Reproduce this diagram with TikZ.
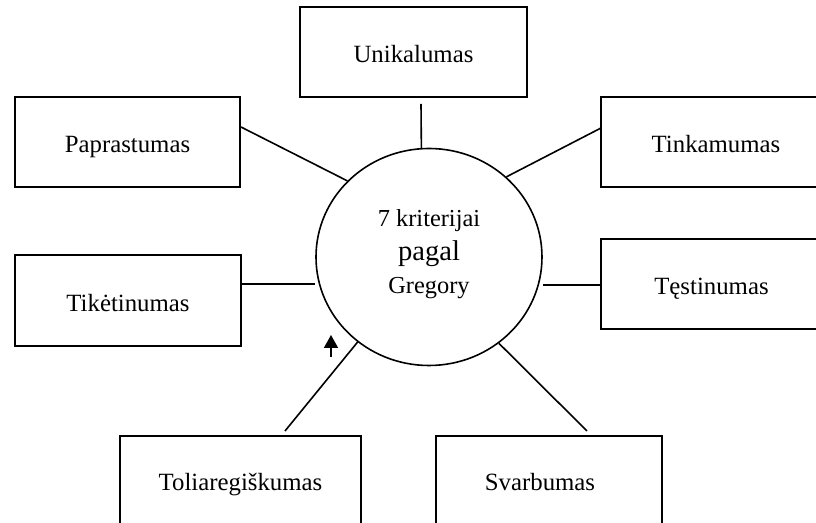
\documentclass[tikz,border=0pt]{standalone}
\usepackage{fontspec}
\setmainfont{Liberation Serif}
\usetikzlibrary{arrows.meta,shapes.geometric}
\begin{document}
\begin{tikzpicture}[x=0.5pt,y=-0.5pt,
  every node/.style={font=\fontsize{12.4}{14}\selectfont},
  box/.style={draw,line width=0.8pt,rectangle,inner sep=0pt,
    text height=11pt,text depth=0pt},
  link/.style={line width=0.8pt},
  hubstyle/.style={draw,ellipse,line width=0.8pt,inner sep=0pt,
    minimum width=113pt,minimum height=108.5pt},
  hubtext/.style={align=center,yshift=1.5pt,font=\fontsize{12.2}{16.4}\selectfont}]
\useasboundingbox (0,0) rectangle (816,523);
\clip (0,0) rectangle (816,523);

% outer criteria boxes
\node[box,minimum width=113.5pt,minimum height=45pt] (unik) at (413.5,52) {Unikalumas};
\node[box,minimum width=112.5pt,minimum height=45pt] (papr) at (127.5,142) {Paprastumas};
\node[box,minimum width=115pt,minimum height=45pt] (tink) at (716,142) {Tinkamumas};
\node[box,minimum width=113pt,minimum height=45.5pt] (tiket) at (128,300.5) {Tikėtinumas};
\node[box,minimum width=110.5pt,minimum height=45pt] (test) at (711.5,284) {Tęstinumas};
\node[box,minimum width=120.5pt,minimum height=44pt] (tol) at (240.5,480) {Toliaregiškumas};
\node[box,minimum width=113pt,minimum height=44pt,
  label={[xshift=-4.5pt,text height=11pt,text depth=0pt]center:Svarbumas}] (svarb) at (549,480) {};

% central circle with its three-line caption
\node[hubstyle,
  label={[hubtext]center:7 kriterijai\\[1pt]{\fontsize{14.3}{16.4}\selectfont pagal}\\[0pt]Gregory}]
  (hub) at (429,257) {};

% connector ends at the boxes
\coordinate (u1) at (421,104);
\coordinate (p1) at (241,127);
\coordinate (t1) at (601,128);
\coordinate (k1) at (241,284);
\coordinate (s1) at (601,285);
\coordinate (o1) at (285,431);
\coordinate (v1) at (587,431);

\draw[link] (u1) -- (hub.94);
\draw[link] (p1) -- (hub.137);
\draw[link] (t1) -- (hub.46);
\draw[link] (k1) -- (hub.west |- k1);
\draw[link] (s1) -- (hub.east |- s1);
\draw[link] (o1) -- (hub.230.5);
\draw[link] (v1) -- (hub.-51);

% small upward arrow
\coordinate (a0) at (331,357);
\coordinate (a1) at (331,335);
\draw[link,-{Triangle[width=7pt,length=6.5pt]}] (a0) -- (a1);
\end{tikzpicture}
\end{document}
